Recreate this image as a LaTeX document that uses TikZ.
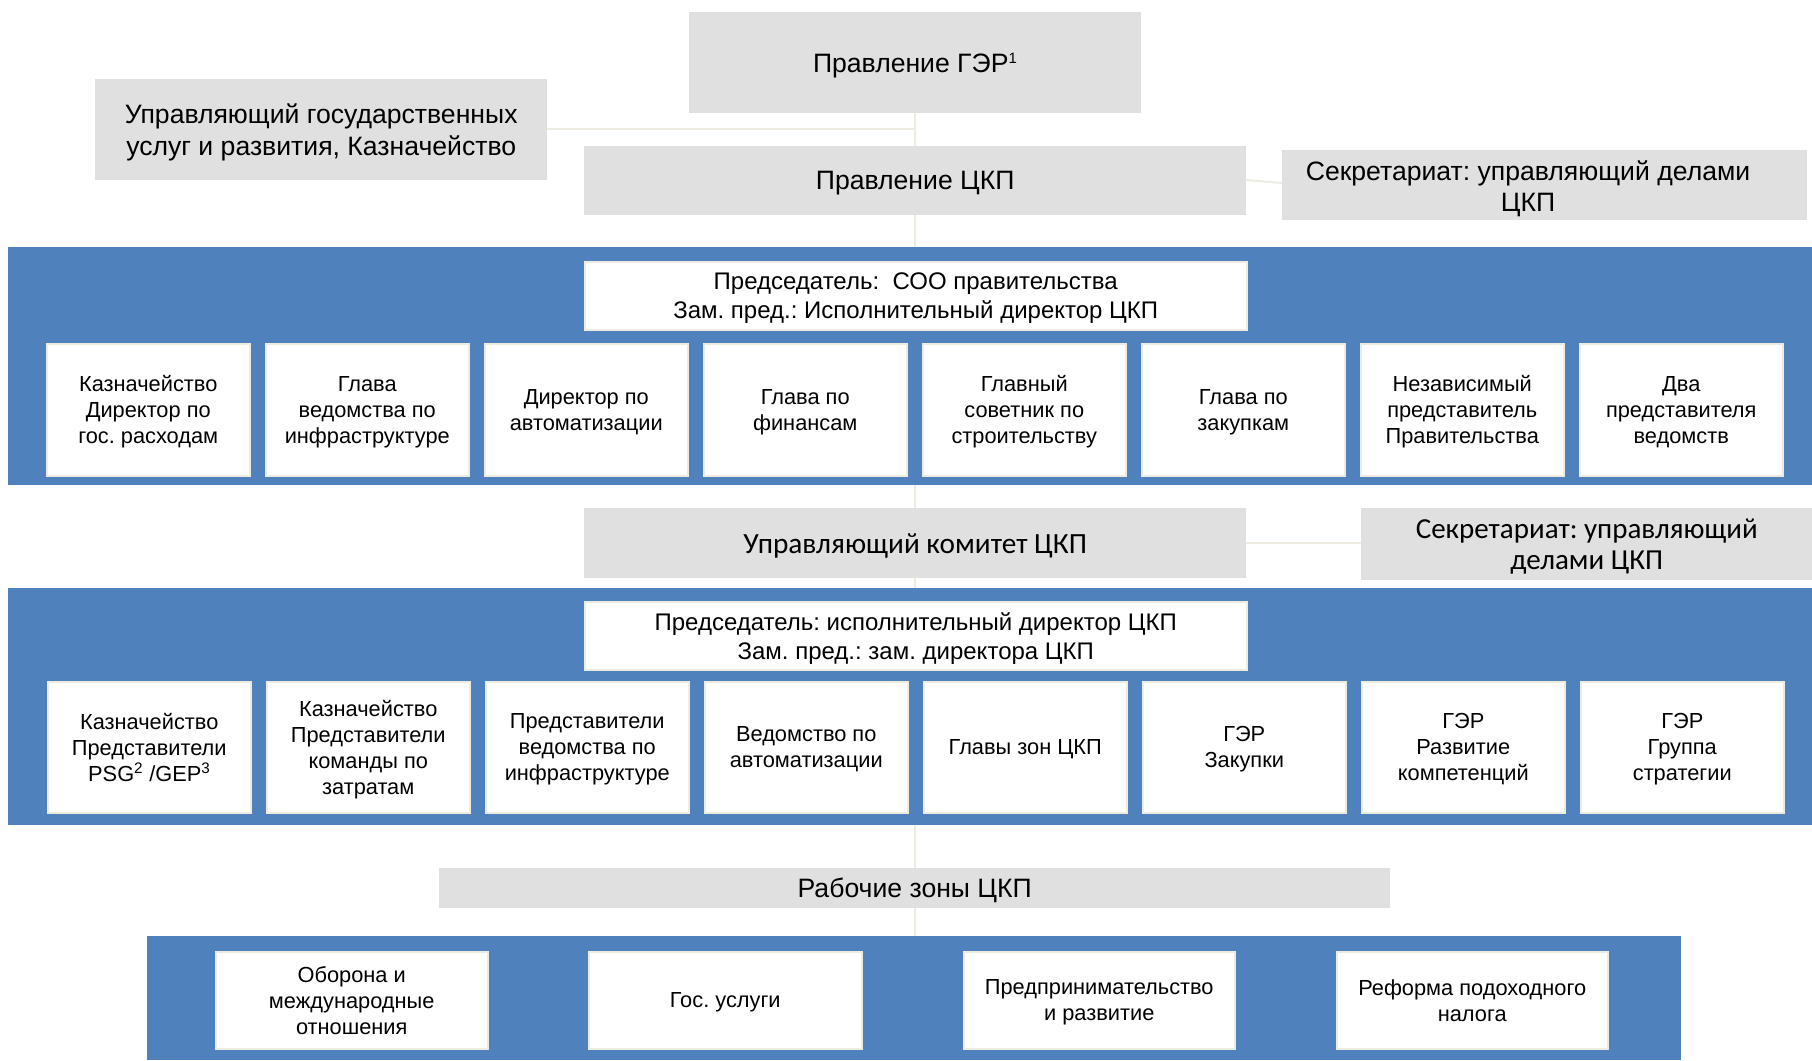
\documentclass[tikz,border=0pt]{standalone}
\usepackage{fontspec}
\setmainfont{Liberation Sans}
\newfontfamily\calfont{Carlito}
\frenchspacing
\definecolor{bandblue}{HTML}{4F81BD}
\definecolor{boxgrey}{HTML}{E0E0E0}
\definecolor{linebeige}{HTML}{EEECE1}
\tikzset{
  greybox/.style={anchor=north west, inner sep=0pt, text depth=0pt, fill=boxgrey, align=center, font=\fontsize{26.6}{31.5}\selectfont},
  whitebox/.style={anchor=north west, inner sep=0pt, text depth=0pt, fill=white, draw=linebeige, line width=1.5pt, align=center, font=\fontsize{21.8}{26}\selectfont},
  chairbox/.style={anchor=north west, inner sep=0pt, text depth=0pt, fill=white, draw=linebeige, line width=1.5pt, align=center, font=\fontsize{24}{29}\selectfont},
  band/.style={anchor=north west, inner sep=0pt, fill=bandblue},
  conn/.style={draw=linebeige, line width=2pt},
  txt/.style={inner sep=0pt, text depth=0pt, align=center}
}
\begin{document}
\begin{tikzpicture}[x=1pt,y=-1pt]
\useasboundingbox (0,0) rectangle (1812,1060);
\fill[white] (0,0) rectangle (1812,1060);
% connector anchors (drawn first, behind)
\coordinate (vtop) at (915,113);
\coordinate (vbot) at (915,936);
\draw[conn] (vtop) -- (vbot);
\coordinate (hjoin) at (915,129);
\coordinate (uprR) at (547,129);
\draw[conn] (uprR) -- (hjoin);
\coordinate (pckpR) at (1246,180);
\coordinate (sec1L) at (1282,183);
\draw[conn] (pckpR) -- (sec1L);
\coordinate (ukR) at (1246,543);
\coordinate (sec2L) at (1361,543);
\draw[conn] (ukR) -- (sec2L);

% top grey boxes
\node[greybox, minimum width=452pt, minimum height=101pt] (ger) at (689,12) {Правление ГЭР\textsuperscript{\fontsize{15}{15}\selectfont 1}};
\node[greybox, minimum width=452pt, minimum height=101pt] (upr) at (95,79) {Управляющий государственных\\услуг и развития, Казначейство};
\node[greybox, minimum width=662pt, minimum height=69pt] (pckp) at (584,146) {Правление ЦКП};
\node[greybox, minimum width=525pt, minimum height=70pt] (sec1) at (1282,150) {};
\node[txt, font=\fontsize{26.6}{31.5}\selectfont] (sec1t) at (1528,186) {Секретариат: управляющий делами\\ЦКП};

% band 1
\node[band, minimum width=1804pt, minimum height=238pt] (band1) at (8,247) {};
\node[chairbox, minimum width=662pt, minimum height=68pt] (chair1) at (584,261) {Председатель:\ \ СОО правительства\\Зам. пред.: Исполнительный директор ЦКП};
\foreach \i/\t in {0/{Казначейство\\Директор по\\гос. расходам},
                   1/{Глава\\ведомства по\\инфраструктуре},
                   2/{Директор по\\автоматизации},
                   3/{Глава по\\финансам},
                   4/{Главный\\советник по\\строительству},
                   5/{Глава по\\закупкам},
                   6/{Независимый\\представитель\\Правительства},
                   7/{Два\\представителя\\ведомств}}{
  \node[whitebox, minimum width=203pt, minimum height=132pt] (r1b\i) at ({46+219*\i},343) {\t};
}

% steering committee
\node[greybox, minimum width=662pt, minimum height=70pt, font=\calfont\fontsize{29.3}{33}\selectfont] (uk) at (584,508) {Управляющий комитет ЦКП};
\node[greybox, minimum width=451pt, minimum height=72pt, font=\calfont\fontsize{29}{31}\selectfont] (sec2) at (1361,508) {Секретариат: управляющий\\делами ЦКП};

% band 2
\node[band, minimum width=1804pt, minimum height=237pt] (band2) at (8,588) {};
\node[chairbox, minimum width=662pt, minimum height=68pt] (chair2) at (584,601) {Председатель: исполнительный директор ЦКП\\Зам. пред.: зам. директора ЦКП};
\foreach \i/\t in {0/{Казначейство\\Представители\\PSG\textsuperscript{2} /GEP\textsuperscript{3}},
                   1/{Казначейство\\Представители\\команды по\\затратам},
                   2/{Представители\\ведомства по\\инфраструктуре},
                   3/{Ведомство по\\автоматизации},
                   4/{Главы зон ЦКП},
                   5/{ГЭР\\Закупки},
                   6/{ГЭР\\Развитие\\компетенций},
                   7/{ГЭР\\Группа\\стратегии}}{
  \node[whitebox, minimum width=203pt, minimum height=131pt] (r2b\i) at ({47+219*\i},681) {\t};
}

% working zones
\node[greybox, minimum width=951pt, minimum height=40pt] (zones) at (439,868) {Рабочие зоны ЦКП};
\node[band, minimum width=1534pt, minimum height=124pt] (band3) at (147,936) {};
\node[whitebox, minimum width=272pt, minimum height=97pt] (z1) at (215,951) {Оборона и\\международные\\отношения};
\node[whitebox, minimum width=273pt, minimum height=97pt] (z2) at (588,951) {Гос. услуги};
\node[whitebox, minimum width=271pt, minimum height=97pt] (z3) at (963,951) {Предпринимательство\\и развитие};
\node[whitebox, minimum width=271pt, minimum height=97pt] (z4) at (1336,951) {Реформа подоходного\\налога};
\end{tikzpicture}
\end{document}
